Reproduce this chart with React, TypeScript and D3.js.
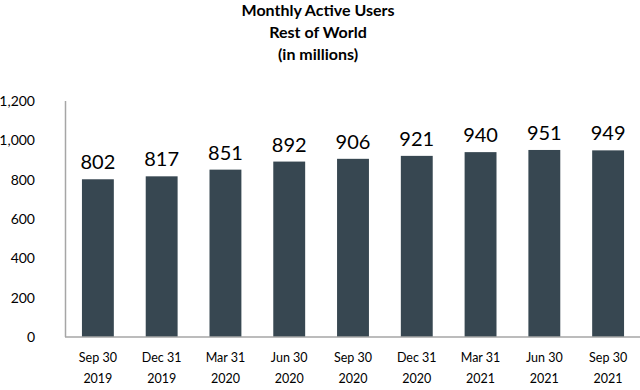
import * as d3 from 'd3';

const quarters = ['Sep 30', 'Dec 31', 'Mar 31', 'Jun 30', 'Sep 30', 'Dec 31', 'Mar 31', 'Jun 30', 'Sep 30'];
const years = ['2019', '2019', '2020', '2020', '2020', '2020', '2021', '2021', '2021'];
const users = [802, 817, 851, 892, 906, 921, 940, 951, 949];
const yTicks = [0, 200, 400, 600, 800, 1000, 1200];
const titleLines = ['Monthly Active Users', 'Rest of World', '(in millions)'];

const W = 640;
const H = 390;
const font = 'Lato, "Open Sans", sans-serif';

export default function App() {
  const keys = users.map((_, i) => String(i));
  const x = d3.scaleBand().domain(keys).range([66, 640]).paddingInner(0.5).paddingOuter(0.25);
  const y = d3.scaleLinear().domain([0, 1200]).range([337, 101]);
  const fmt = d3.format(',');

  return (
    <svg width={W} height={H} style={{ position: 'absolute', left: 0, top: 0, background: '#fff' }}>
      {titleLines.map((t, i) => (
        <text key={t} x={318} y={16 + i * 22} textAnchor="middle" fontFamily={font} fontWeight="bold" fontSize={16} fill="#000">
          {t}
        </text>
      ))}

      {yTicks.map((t) => (
        <text key={t} x={35} y={y(t) + 5} textAnchor="end" fontFamily={font} fontSize={14} fill="#000">
          {fmt(t)}
        </text>
      ))}

      {users.map((v, i) => (
        <g key={i}>
          <rect x={x(String(i))} y={y(v)} width={x.bandwidth()} height={y(0) - y(v)} fill="#374751" />
          <text x={x(String(i))! + x.bandwidth() / 2} y={y(v) - 10} textAnchor="middle" fontFamily={font} fontSize={20} fill="#000">
            {v}
          </text>
          <text x={x(String(i))! + x.bandwidth() / 2} y={362} textAnchor="middle" fontFamily={font} fontSize={12.5} fill="#000">
            {quarters[i]}
          </text>
          <text x={x(String(i))! + x.bandwidth() / 2} y={383} textAnchor="middle" fontFamily={font} fontSize={12.5} fill="#000">
            {years[i]}
          </text>
        </g>
      ))}

      <line x1={65.5} x2={65.5} y1={101} y2={337} stroke="#a6a6a6" strokeWidth={1.5} />
      <line x1={65} x2={640} y1={337} y2={337} stroke="#a6a6a6" strokeWidth={1.5} />
    </svg>
  );
}
